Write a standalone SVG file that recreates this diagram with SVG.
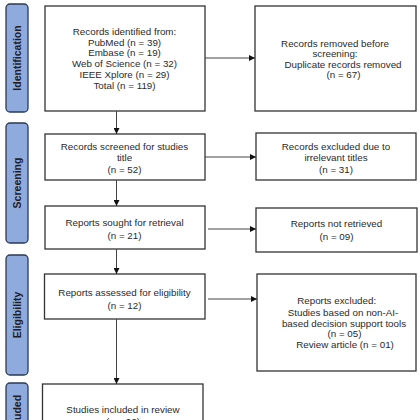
<svg xmlns="http://www.w3.org/2000/svg" width="420" height="420" viewBox="0 0 420 420">
<defs>
<marker id="ah" viewBox="0 0 10 10" refX="10" refY="5" markerWidth="6" markerHeight="6" markerUnits="userSpaceOnUse" orient="auto">
<path d="M0,0 L10,5 L0,10 z" fill="#111"/>
</marker>
<style>
.box{fill:#fff;stroke:#333;stroke-width:1.3}
.side{fill:#8faadc;stroke:#2b3a55;stroke-width:1.3}
.t{font-family:"Liberation Sans",Arial,sans-serif;font-size:9.8px;fill:#2a2a2a;text-anchor:middle}
.s{font-family:"Liberation Sans",Arial,sans-serif;font-size:10.5px;font-weight:bold;fill:#1e1e28;text-anchor:middle}
.c{stroke:#444;stroke-width:1;fill:none;marker-end:url(#ah)}
</style>
</defs>
<rect width="420" height="420" fill="#fff"/>
<g id="phase-identification">
<rect class="side" x="6" y="4" width="22" height="108" rx="4"/>
<text class="s" transform="translate(20.8,58) rotate(-90)">Identification</text>
</g>
<g id="phase-screening">
<rect class="side" x="6" y="123" width="22" height="120" rx="4"/>
<text class="s" transform="translate(20.8,183) rotate(-90)">Screening</text>
</g>
<g id="phase-eligibility">
<rect class="side" x="6" y="255" width="22" height="120" rx="4"/>
<text class="s" transform="translate(20.8,315) rotate(-90)">Eligibility</text>
</g>
<g id="phase-included">
<rect class="side" x="6" y="383" width="22" height="80" rx="4"/>
<text class="s" transform="translate(20.8,416.5) rotate(-90)">Included</text>
</g>
<g id="identified">
<rect class="box" x="45" y="6" width="160" height="105"/>
<text class="t" x="124.5" y="34.5">Records identified from:</text>
<text class="t" x="124.5" y="45.5">PubMed (n = 39)</text>
<text class="t" x="124.5" y="56">Embase (n = 19)</text>
<text class="t" x="124.5" y="67">Web of Science (n = 32)</text>
<text class="t" x="124.5" y="78">IEEE Xplore (n = 29)</text>
<text class="t" x="124.5" y="89">Total (n = 119)</text>
</g>
<g id="removed">
<rect class="box" x="255" y="6" width="161" height="105"/>
<text class="t" x="335" y="46.5">Records removed before</text>
<text class="t" x="335" y="57">screening:</text>
<text class="t" x="343" y="67.5">Duplicate records removed</text>
<text class="t" x="343.5" y="78">(n = 67)</text>
</g>
<g id="screened">
<rect class="box" x="45" y="134" width="160" height="46"/>
<text class="t" x="124.5" y="150">Records screened for studies</text>
<text class="t" x="124.5" y="161">title</text>
<text class="t" x="124.5" y="172.5">(n = 52)</text>
</g>
<g id="excluded-titles">
<rect class="box" x="256" y="133" width="160" height="47"/>
<text class="t" x="336" y="150">Records excluded due to</text>
<text class="t" x="336" y="161">irrelevant titles</text>
<text class="t" x="336" y="172.5">(n = 31)</text>
</g>
<g id="sought">
<rect class="box" x="45" y="206" width="160" height="43"/>
<text class="t" x="124.5" y="225.5">Reports sought for retrieval</text>
<text class="t" x="124.5" y="238.5">(n = 21)</text>
</g>
<g id="not-retrieved">
<rect class="box" x="256" y="208" width="161" height="44"/>
<text class="t" x="336.5" y="227">Reports not retrieved</text>
<text class="t" x="336.5" y="240">(n = 09)</text>
</g>
<g id="assessed">
<rect class="box" x="44.5" y="274" width="160.5" height="45"/>
<text class="t" x="124.5" y="296">Reports assessed for eligibility</text>
<text class="t" x="124.5" y="308.5">(n = 12)</text>
</g>
<g id="excluded-reports">
<rect class="box" x="257" y="274" width="159" height="97"/>
<text class="t" x="336.7" y="304">Reports excluded:</text>
<text class="t" x="343" y="315.5">Studies based on non-AI-</text>
<text class="t" x="344" y="326.5">based decision support tools</text>
<text class="t" x="344.5" y="337">(n = 05)</text>
<text class="t" x="345" y="347.5">Review article (n = 01)</text>
</g>
<g id="included">
<rect class="box" x="42.5" y="384" width="160.5" height="60"/>
<text class="t" x="123" y="413">Studies included in review</text>
<text class="t" x="123" y="425">(n = 06)</text>
</g>
<g id="connectors">
<line class="c" x1="116.5" y1="111" x2="116.5" y2="134"/>
<line class="c" x1="205" y1="58" x2="255" y2="58"/>
<line class="c" x1="116.5" y1="180" x2="116.5" y2="206"/>
<line class="c" x1="205" y1="157" x2="256" y2="157"/>
<line class="c" x1="116.5" y1="249" x2="116.5" y2="274"/>
<line class="c" x1="208" y1="229" x2="256" y2="229"/>
<line class="c" x1="116.5" y1="319" x2="116.5" y2="384"/>
<line class="c" x1="208" y1="299" x2="257" y2="299"/>
</g>
</svg>
